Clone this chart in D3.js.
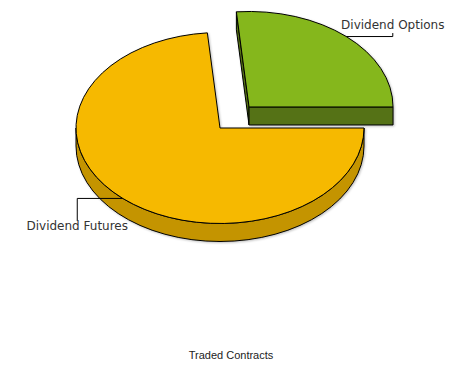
<!DOCTYPE html>
<html>
<head>
<meta charset="utf-8">
<script src="https://cdn.jsdelivr.net/npm/d3@7"></script>
<style>
  html, body { margin: 0; padding: 0; background: #fff; }
  svg { display: block; }
</style>
</head>
<body>
<svg id="chart" width="452" height="365"></svg>
<script>
const categories = ["Dividend Futures", "Dividend Options"];
const values = [73.6, 26.4];
const topColors = ["#F6B900", "#85B71A"];
const sideColors = ["#C49400", "#557213"];
const exploded = [false, true];
const chartTitle = "Traded Contracts";

const W = 452, H = 365;
const cx = 220, cy = 128, rx = 144, ry = 95.5, depth = 18, explodeDist = 43;

const svg = d3.select("#chart");
const defs = svg.append("defs");
const f = defs.append("filter").attr("id", "sh").attr("x", "-10%").attr("y", "-10%").attr("width", "120%").attr("height", "120%");
f.append("feDropShadow").attr("dx", 1).attr("dy", 1).attr("stdDeviation", 1).attr("flood-color", "#000").attr("flood-opacity", 0.25);

const pie = d3.pie().sort(null).value(d => d).startAngle(Math.PI / 2).endAngle(Math.PI / 2 + 2 * Math.PI);
const arcs = pie(values);

const g = svg.append("g");

function pt(ox, oy, a, dz) {
  return [ox + rx * Math.sin(a), oy - ry * Math.cos(a) + (dz || 0)];
}

arcs.forEach((d, i) => {
  const a0 = d.startAngle, a1 = d.endAngle, mid = (a0 + a1) / 2;
  let ox = cx, oy = cy;
  if (exploded[i]) {
    ox += explodeDist * Math.sin(mid);
    oy -= explodeDist * Math.cos(mid) * ry / rx;
  }
  d.ox = ox; d.oy = oy; d.mid = mid;
  const sg = g.append("g").attr("filter", "url(#sh)");
  const stroke = { "stroke": "#000", "stroke-width": 1, "stroke-linejoin": "round" };
  function face(a) {
    const p = pt(ox, oy, a);
    const path = `M${ox},${oy}L${p[0]},${p[1]}L${p[0]},${p[1] + depth}L${ox},${oy + depth}Z`;
    const el = sg.append("path").attr("d", path).attr("fill", sideColors[i]);
    Object.entries(stroke).forEach(([k, v]) => el.attr(k, v));
  }
  // radial faces
  if (Math.sin(a0) < 0) face(a0);
  if (Math.sin(a1) > 0) face(a1);
  // outer wall: visible part in front half (PI/2 .. 3PI/2) modulo 2PI
  const ranges = [];
  for (let k = -1; k <= 1; k++) {
    const lo = Math.PI / 2 + 2 * Math.PI * k, hi = 3 * Math.PI / 2 + 2 * Math.PI * k;
    const s = Math.max(a0, lo), e = Math.min(a1, hi);
    if (e > s) ranges.push([s, e]);
  }
  ranges.forEach(([s, e]) => {
    const p0 = pt(ox, oy, s), p1 = pt(ox, oy, e);
    const large = (e - s) > Math.PI ? 1 : 0;
    const path = `M${p0[0]},${p0[1]}A${rx},${ry} 0 ${large} 1 ${p1[0]},${p1[1]}` +
      `L${p1[0]},${p1[1] + depth}A${rx},${ry} 0 ${large} 0 ${p0[0]},${p0[1] + depth}Z`;
    const el = sg.append("path").attr("d", path).attr("fill", sideColors[i]);
    Object.entries(stroke).forEach(([k, v]) => el.attr(k, v));
  });
  // top
  const p0 = pt(ox, oy, a0), p1 = pt(ox, oy, a1);
  const large = (a1 - a0) > Math.PI ? 1 : 0;
  const topPath = `M${ox},${oy}L${p0[0]},${p0[1]}A${rx},${ry} 0 ${large} 1 ${p1[0]},${p1[1]}Z`;
  const el = sg.append("path").attr("d", topPath).attr("fill", topColors[i]);
  Object.entries(stroke).forEach(([k, v]) => el.attr(k, v));
});

// labels
const lg = svg.append("g");
arcs.forEach((d, i) => {
  const p = pt(d.ox, d.oy, d.mid);
  const right = Math.sin(d.mid) > 0;
  const ex = p[0] + (right ? 46.5 : -45.5);
  const upper = Math.cos(d.mid) > 0;
  const vy = upper ? p[1] - 3.5 : p[1] + 22.5;
  lg.append("path")
    .attr("d", `M${p[0]},${p[1]}L${ex},${p[1]}L${ex},${vy}`)
    .attr("fill", "none").attr("stroke", "#000").attr("stroke-width", 1);
  lg.append("text")
    .attr("x", ex)
    .attr("y", upper ? vy - 4 : vy + 9)
    .attr("text-anchor", "middle")
    .attr("font-family", "DejaVu Sans, Verdana, sans-serif")
    .attr("font-size", 12)
    .attr("fill", "#333")
    .text(categories[i]);
});

svg.append("text")
  .attr("x", 231).attr("y", 359)
  .attr("text-anchor", "middle")
  .attr("font-family", "Liberation Sans, Arial, sans-serif")
  .attr("font-size", 11)
  .attr("fill", "#222")
  .text(chartTitle);
</script>
</body>
</html>
